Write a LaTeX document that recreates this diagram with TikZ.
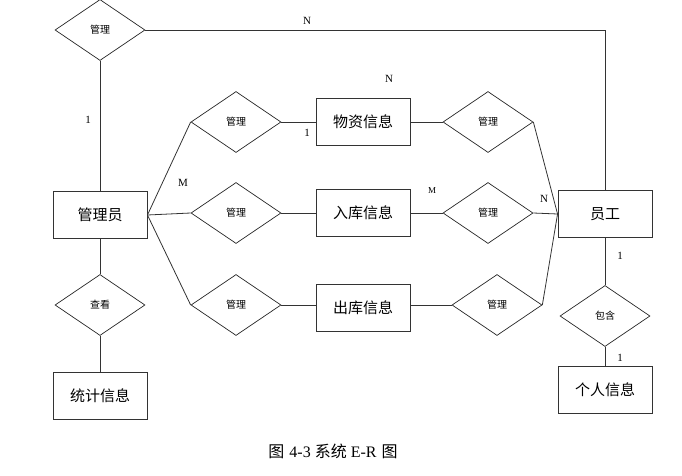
\documentclass[tikz,border=0pt]{standalone}
\usepackage{fontspec}
\setmainfont{Liberation Serif}
\newfontfamily\cjk{Noto Sans CJK SC}
\usetikzlibrary{shapes.geometric}
\begin{document}
\begin{tikzpicture}[x=1pt,y=-1pt,
  ent/.style={draw=black!80, line width=0.9pt, minimum width=94pt, minimum height=47pt, inner sep=0pt, font=\cjk\fontsize{15}{15}\selectfont},
  rel/.style={draw=black!85, line width=0.7pt, diamond, minimum width=90pt, minimum height=61pt, inner sep=0pt, font=\cjk\fontsize{10}{10}\selectfont},
  conn/.style={draw=black!80, line width=0.8pt},
  card/.style={font=\fontsize{11}{11}\selectfont, inner sep=0pt},
  cards/.style={font=\fontsize{9}{9}\selectfont, inner sep=0pt}]
\useasboundingbox (0,0) rectangle (682,476);
% entities
\node[ent] (gly) at (100,215) {管理员};
\node[ent] (tj)  at (100,396) {统计信息};
\node[ent] (wz)  at (363,122) {物资信息};
\node[ent] (rk)  at (363,213) {入库信息};
\node[ent] (ck)  at (363,308) {出库信息};
\node[ent] (yg)  at (605,214) {员工};
\node[ent] (gr)  at (605,390) {个人信息};
% relationships
\node[rel] (d0) at (100,30)  {管理};
\node[rel] (d1) at (236,122) {管理};
\node[rel] (d2) at (236,213) {管理};
\node[rel] (d3) at (236,305) {管理};
\node[rel] (d4) at (488,122) {管理};
\node[rel] (d5) at (488,213) {管理};
\node[rel] (d6) at (497,305) {管理};
\node[rel] (ck2) at (100,305) {查看};
\node[rel] (bh) at (605,316) {包含};
% connectors
\draw[conn] (d0.east) -| (yg.north);
\draw[conn] (d0.south) -- (gly.north);
\draw[conn] (gly.east) -- (d1.west);
\draw[conn] (gly.east) -- (d2.west);
\draw[conn] (gly.east) -- (d3.west);
\draw[conn] (d1.east) -- (wz.west);
\draw[conn] (d2.east) -- (rk.west);
\draw[conn] (d3.east) -- (d3.east -| ck.west);
\draw[conn] (wz.east) -- (d4.west);
\draw[conn] (rk.east) -- (d5.west);
\draw[conn] (d6.west -| ck.east) -- (d6.west);
\draw[conn] (d4.east) -- (yg.west);
\draw[conn] (d5.east) -- (yg.west);
\draw[conn] (d6.east) -- (yg.west);
\draw[conn] (gly.south) -- (ck2.north);
\draw[conn] (ck2.south) -- (tj.north);
\draw[conn] (yg.south) -- (bh.north);
\draw[conn] (bh.south) -- (gr.north);
% cardinalities
\node[card] (l1) at (307,21) {N};
\node[card] (l2) at (88,120) {1};
\node[card] (l3) at (183,183) {M};
\node[card] (l4) at (307,133) {1};
\node[card] (l5) at (389,79) {N};
\node[cards] (l6) at (432,191) {M};
\node[card] (l7) at (544,199) {N};
\node[card] (l8) at (620,256) {1};
\node[card] (l9) at (620,358) {1};
% caption
\node[font=\fontsize{16}{16}\selectfont, inner sep=0pt] (cap) at (333,451) {{\cjk 图}\hspace{5pt}4-3\hspace{4pt}{\cjk 系统}\hspace{4pt}E-R\hspace{5pt}{\cjk 图}};
\end{tikzpicture}
\end{document}
